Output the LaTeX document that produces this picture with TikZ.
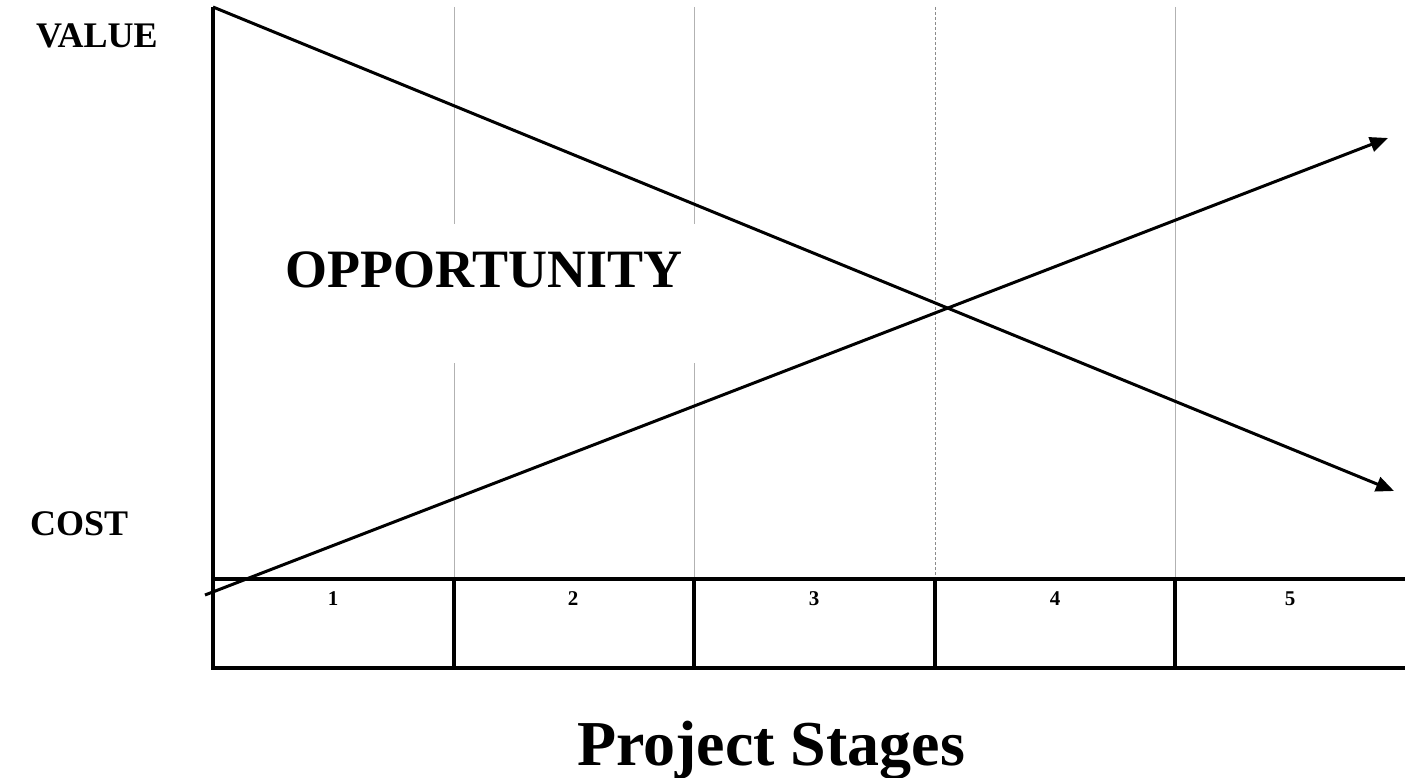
\documentclass[tikz,border=0pt]{standalone}
\usepackage{fontspec}
\setmainfont{Liberation Serif}
\usetikzlibrary{arrows.meta}
\begin{document}
\begin{tikzpicture}[x=1pt,y=-1pt,
  tableline/.style={line width=3.6pt},
  gridline/.style={line width=1pt,draw=black!30},
  gridbroken/.style={line width=1pt,draw=black!45,dash pattern=on 3pt off 2pt},
  trend/.style={line width=3pt,-{Triangle[length=18pt,width=15pt]}},
  lbl/.style={font=\bfseries\fontsize{36}{36}\selectfont,inner sep=0pt,anchor=base west},
  num/.style={font=\bfseries\fontsize{21}{21}\selectfont,inner sep=0pt,anchor=base}]
\useasboundingbox (0,0) rectangle (1405,778);
% coordinates
\coordinate (axtop) at (213,7);
\coordinate (axbot) at (213,668);
\coordinate (vend) at (1394,491);
\coordinate (cstart) at (205,595);
\coordinate (cend) at (1388,138);
% grid lines
\foreach \x in {454,694}{
  \draw[gridline] (\x,7) -- (\x,224);
  \draw[gridline] (\x,363) -- (\x,578);
}
\draw[gridbroken] (935,7) -- (935,578);
\draw[gridline] (1175,7) -- (1175,578);
% table
\draw[tableline] (213,579) -- (1405,579);
\draw[tableline] (211,668) -- (1405,668);
\foreach \x in {454,694,935,1175}{
  \draw[tableline] (\x,579) -- (\x,668);
}
% axis
\draw[line width=4pt] (axtop) -- (axbot);
% trend lines
\draw[trend] (axtop) -- (vend);
\draw[trend] (cstart) -- (cend);
% numbers
\node[num] (n1) at (333,605) {1};
\node[num] (n2) at (573,605) {2};
\node[num] (n3) at (814,605) {3};
\node[num] (n4) at (1055,605) {4};
\node[num] (n5) at (1290,605) {5};
% labels
\node[lbl] (value) at (36,48) {VALUE};
\node[lbl] (cost) at (30,535) {COST};
\node[lbl,font=\bfseries\fontsize{54}{54}\selectfont] (opp) at (285,287) {OPPORTUNITY};
\node[lbl,font=\bfseries\fontsize{64}{64}\selectfont] (stages) at (577,765) {Project Stages};
\end{tikzpicture}
\end{document}
